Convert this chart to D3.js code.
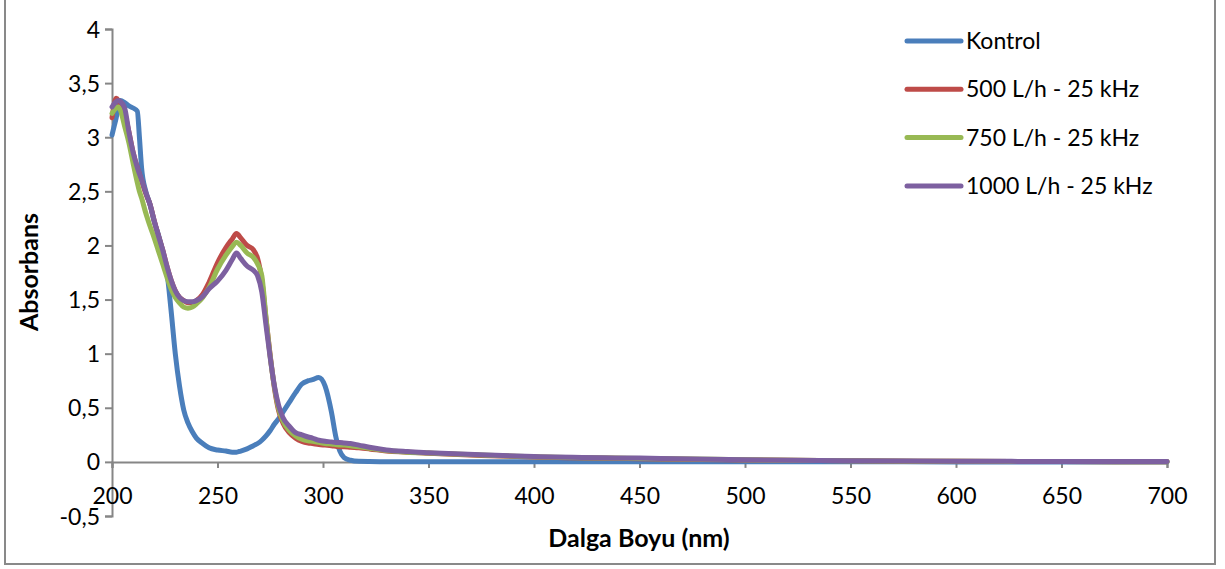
<!DOCTYPE html>
<html>
<head>
<meta charset="utf-8">
<script src="https://cdn.jsdelivr.net/npm/d3@7"></script>
<style>
  body { margin: 0; background: #fff; }
  text { font-family: Lato, "Liberation Sans", sans-serif; fill: #000; }
</style>
</head>
<body>
<svg id="svg" width="1225" height="569"></svg>
<script>
// dalga boyu (nm)
var wavelengths = [200, 201, 202, 203, 204, 206, 208, 210, 212, 213, 214, 216, 218, 220, 222, 224, 226, 228, 230, 232,
  234, 236, 238, 240, 243, 246, 250, 254, 257, 259, 261, 264, 267, 269, 271, 273, 275, 277, 279, 281,
  284, 287, 290, 293, 295, 298, 301, 304, 306, 308, 310, 313, 317, 322, 330, 340, 350, 375, 400, 450,
  500, 550, 600, 650, 700];

var kontrol = [3.02, 3.10, 3.18, 3.28, 3.34, 3.32, 3.29, 3.27, 3.24, 3.00, 2.72, 2.50, 2.38, 2.22, 2.10, 1.95, 1.76, 1.40, 1.00, 0.70,
  0.48, 0.36, 0.28, 0.22, 0.17, 0.13, 0.11, 0.10, 0.09, 0.09, 0.10, 0.12, 0.15, 0.17, 0.20, 0.24, 0.29, 0.35, 0.40, 0.46,
  0.55, 0.64, 0.72, 0.75, 0.76, 0.78, 0.70, 0.46, 0.24, 0.10, 0.04, 0.015, 0.005, 0.003, 0.002, 0.002, 0.002, 0.002, 0.002, 0.001,
  0.001, 0.001, 0, 0, 0];

var l500 = [3.18, 3.30, 3.36, 3.34, 3.30, 3.22, 3.05, 2.86, 2.72, 2.66, 2.60, 2.48, 2.38, 2.23, 2.09, 1.96, 1.81, 1.68, 1.58, 1.52,
  1.49, 1.47, 1.47, 1.49, 1.55, 1.66, 1.84, 1.98, 2.06, 2.11, 2.07, 2.00, 1.96, 1.88, 1.68, 1.32, 0.98, 0.68, 0.47, 0.36,
  0.27, 0.22, 0.19, 0.175, 0.17, 0.16, 0.155, 0.15, 0.145, 0.14, 0.14, 0.135, 0.13, 0.12, 0.10, 0.09, 0.08, 0.06, 0.045, 0.03,
  0.018, 0.01, 0.005, 0.003, 0.002];

var l750 = [3.22, 3.25, 3.27, 3.28, 3.25, 3.10, 2.95, 2.76, 2.58, 2.50, 2.44, 2.30, 2.18, 2.07, 1.95, 1.83, 1.71, 1.60, 1.52, 1.47,
  1.43, 1.42, 1.43, 1.46, 1.52, 1.61, 1.78, 1.91, 1.99, 2.03, 2.00, 1.93, 1.89, 1.83, 1.72, 1.33, 0.97, 0.69, 0.49, 0.38,
  0.29, 0.24, 0.21, 0.195, 0.19, 0.18, 0.17, 0.165, 0.16, 0.155, 0.155, 0.15, 0.14, 0.125, 0.105, 0.09, 0.082, 0.063, 0.047, 0.032,
  0.02, 0.01, 0.005, 0.003, 0.002];

var l1000 = [3.28, 3.31, 3.33, 3.34, 3.33, 3.27, 3.05, 2.86, 2.72, 2.66, 2.61, 2.49, 2.38, 2.23, 2.09, 1.96, 1.81, 1.68, 1.58, 1.52,
  1.49, 1.48, 1.48, 1.49, 1.53, 1.60, 1.67, 1.77, 1.87, 1.93, 1.88, 1.81, 1.77, 1.72, 1.57, 1.26, 0.96, 0.70, 0.52, 0.41,
  0.33, 0.27, 0.25, 0.23, 0.22, 0.20, 0.19, 0.185, 0.18, 0.18, 0.175, 0.17, 0.155, 0.135, 0.11, 0.095, 0.085, 0.065, 0.05, 0.035,
  0.02, 0.01, 0.006, 0.004, 0.003];

var seriesNames = ["Kontrol", "500 L/h - 25 kHz", "750 L/h - 25 kHz", "1000 L/h - 25 kHz"];
var seriesColors = ["#4A7EBB", "#BE4B48", "#98B954", "#7D60A0"];
var xTicks = [200, 250, 300, 350, 400, 450, 500, 550, 600, 650, 700];
var yTicks = [-0.5, 0, 0.5, 1, 1.5, 2, 2.5, 3, 3.5, 4];

var svg = d3.select("#svg");
var axisColor = "#868686";

// dis cerceve
svg.append("rect")
  .attr("x", 5).attr("y", -5)
  .attr("width", 1210).attr("height", 569)
  .attr("fill", "#fff")
  .attr("stroke", "#898989")
  .attr("stroke-width", 2);

var xScale = d3.scaleLinear().domain([200, 700]).range([112, 1167]);
var yScale = d3.scaleLinear().domain([-0.5, 4]).range([516, 29]);
var fmt = d => String(d).replace(".", ",");

var yAxis = svg.append("g")
  .attr("transform", "translate(112,0)")
  .call(d3.axisLeft(yScale).tickValues(yTicks).tickSize(7).tickPadding(5).tickFormat(fmt));

var xAxis = svg.append("g")
  .attr("transform", `translate(0,${yScale(0)})`)
  .call(d3.axisBottom(xScale).tickValues(xTicks).tickSize(6).tickPadding(20).tickFormat(fmt));

[xAxis, yAxis].forEach(a => {
  a.select(".domain").attr("stroke", axisColor).attr("stroke-width", 2);
  a.selectAll(".tick line").attr("stroke", axisColor).attr("stroke-width", 2);
  a.selectAll(".tick text").style("font-size", "23px").attr("fill", "#000");
});
yAxis.selectAll(".tick text").attr("dy", "0.35em");

var allSeries = [kontrol, l500, l750, l1000];
var line = d3.line()
  .x((d, i) => xScale(wavelengths[i]))
  .y(d => yScale(d))
  .curve(d3.curveMonotoneX);

svg.append("g").selectAll("path")
  .data(allSeries)
  .enter()
  .append("path")
  .attr("d", d => line(d))
  .attr("fill", "none")
  .attr("stroke", (d, i) => seriesColors[i])
  .attr("stroke-width", 5)
  .attr("stroke-linejoin", "round")
  .attr("stroke-linecap", "round");

// eksen basliklari
svg.append("text")
  .attr("transform", "translate(38,272) rotate(-90)")
  .attr("text-anchor", "middle")
  .style("font-size", "25px")
  .style("font-weight", "bold")
  .text("Absorbans");

svg.append("text")
  .attr("x", 639).attr("y", 547)
  .attr("text-anchor", "middle")
  .style("font-size", "25px")
  .style("font-weight", "bold")
  .text("Dalga Boyu (nm)");

// legend
var legend = svg.append("g").selectAll("g")
  .data(seriesNames)
  .enter()
  .append("g")
  .attr("transform", (d, i) => `translate(907,${41 + i * 48.3})`);

legend.append("line")
  .attr("x1", 0).attr("x2", 54)
  .attr("stroke", (d, i) => seriesColors[i])
  .attr("stroke-width", 5)
  .attr("stroke-linecap", "round");

legend.append("text")
  .attr("x", 59).attr("dy", "0.35em")
  .style("font-size", "23px")
  .text(d => d);
</script>
</body>
</html>
